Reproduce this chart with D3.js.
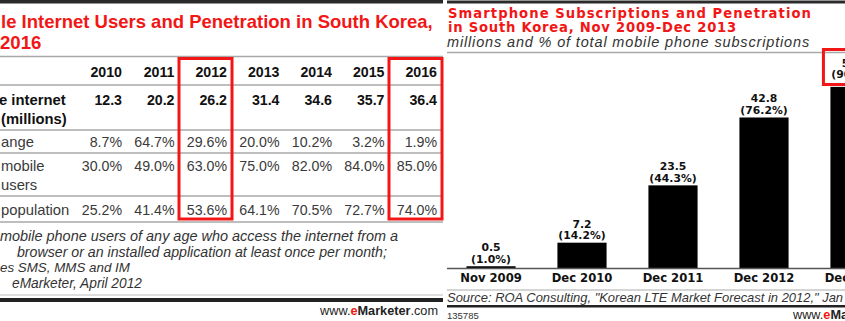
<!DOCTYPE html>
<html><head><meta charset="utf-8">
<script src="https://cdn.jsdelivr.net/npm/d3@7"></script>
<style>
html,body{margin:0;padding:0;background:#fff;}
svg{display:block;}
</style></head>
<body>
<div id="chart"></div>
<script>
// ---------- data: left table ----------
const years = [2010, 2011, 2012, 2013, 2014, 2015, 2016];
const mobileNetUsers = [12.3, 20.2, 26.2, 31.4, 34.6, 35.7, 36.4];      // millions
const pctChange = [8.7, 64.7, 29.6, 20.0, 10.2, 3.2, 1.9];
const pctMobileUsers = [30.0, 49.0, 63.0, 75.0, 82.0, 84.0, 85.0];
const pctPopulation = [25.2, 41.4, 53.6, 64.1, 70.5, 72.7, 74.0];
const highlightYears = [2012, 2016];
const rowLabels = [["e internet", "(millions)"], ["ange"], ["mobile", "users"], ["population"]];
const leftTitle = ["le Internet Users and Penetration in South Korea,", "2016"];
const leftNotes = ["mobile phone users of any age who access the internet from a",
                   "browser or an installed application at least once per month;",
                   "es SMS, MMS and IM",
                   "eMarketer, April 2012"];

// ---------- data: right bar chart ----------
const periods = ["Nov 2009", "Dec 2010", "Dec 2011", "Dec 2012", "Dec 2013"];
const smartSubs = [0.5, 7.2, 23.5, 42.8, 51.5];       // millions
const smartPen = [1.0, 14.2, 44.3, 76.2, 90.1];       // % of mobile subscriptions
const highlightPeriod = "Dec 2013";
const rightTitle = ["Smartphone Subscriptions and Penetration", "in South Korea, Nov 2009-Dec 2013"];
const rightSubtitle = "millions and % of total mobile phone subscriptions";
const rightSource = "Source: ROA Consulting, \"Korean LTE Market Forecast in 2012,\" Jan";
const chartId = "135785";

const W = 845, H = 321;
const RED = "#f21616";
const svg = d3.select("#chart").append("svg").attr("width", W).attr("height", H)
  .attr("viewBox", `0 0 ${W} ${H}`);
svg.append("rect").attr("width", W).attr("height", H).attr("fill", "#fff");

// scale font-size so the text spans a given width
function fit(sel, w) {
  sel.each(function () {
    const l = this.getComputedTextLength();
    const fs = parseFloat(this.getAttribute("font-size"));
    if (l > 0) this.setAttribute("font-size", (fs * w / l).toFixed(2));
  });
  return sel;
}
// widen letter spacing so the text spans a given width (keeps glyph height)
function fitLS(sel, w) {
  sel.each(function () {
    const l = this.getComputedTextLength();
    const n = this.textContent.length;
    if (l > 0 && n > 1) this.setAttribute("letter-spacing", ((w - l) / n).toFixed(3));
  });
  return sel;
}
function brand(g, x, y, anchor, size) {
  const t = g.append("text").attr("x", x).attr("y", y).attr("text-anchor", anchor)
    .attr("font-family", "Liberation Sans, Arial, sans-serif").attr("font-size", size).attr("fill", "#222");
  t.append("tspan").text("www.");
  t.append("tspan").attr("fill", RED).attr("font-weight", "bold").text("e");
  t.append("tspan").attr("font-weight", "bold").text("Marketer");
  t.append("tspan").text(".com");
  return t;
}

// ================= LEFT PANEL =================
const L = svg.append("g");
L.append("rect").attr("x", 0).attr("y", 0).attr("width", 443).attr("height", 3.5).attr("fill", "#2a2a2a");
fit(L.append("text").attr("x", 1).attr("y", 27.5).attr("font-family", "Liberation Sans, Arial, sans-serif")
  .attr("font-weight", "bold").attr("font-size", 19).attr("fill", RED).text(leftTitle[0]), 432);
L.append("text").attr("x", 0).attr("y", 49).attr("font-family", "Liberation Sans, Arial, sans-serif")
  .attr("font-weight", "bold").attr("font-size", 18.6).attr("fill", RED).text(leftTitle[1]);

const col = d3.scalePoint().domain(years).range([122, 437]);
const tableFont = "Liberation Sans, Arial, sans-serif";

// rule lines
const rules = [56.5, 85, 130, 153, 196, 222];
L.selectAll("line.rule").data(rules).join("line").attr("class", "rule")
  .attr("x1", 0).attr("x2", 443).attr("y1", d => d).attr("y2", d => d)
  .attr("stroke", "#a8a8a8").attr("stroke-width", 1.5);

// header
L.selectAll("text.yr").data(years).join("text").attr("class", "yr")
  .attr("x", d => col(d)).attr("y", 77).attr("text-anchor", "end")
  .attr("font-family", tableFont).attr("font-weight", "bold").attr("font-size", 14.2)
  .attr("fill", "#111").text(d => d);

const rows = [
  { vals: mobileNetUsers, fmt: d => d.toFixed(1), bold: true, y: 105, ly: [105, 124] },
  { vals: pctChange, fmt: d => d.toFixed(1) + "%", bold: false, y: 147, ly: [147] },
  { vals: pctMobileUsers, fmt: d => d.toFixed(1) + "%", bold: false, y: 171, ly: [171, 190] },
  { vals: pctPopulation, fmt: d => d.toFixed(1) + "%", bold: false, y: 215, ly: [215] }
];
rows.forEach((r, ri) => {
  L.append("g").selectAll("text").data(r.vals).join("text")
    .attr("x", (d, i) => col(years[i])).attr("y", r.y).attr("text-anchor", "end")
    .attr("font-family", tableFont).attr("font-weight", r.bold ? "bold" : "normal")
    .attr("font-size", 14.2).attr("fill", r.bold ? "#111" : "#3a3a3a").text(r.fmt);
  rowLabels[ri].forEach((lab, li) => {
    L.append("text").attr("x", li === 0 && ri === 0 ? -1 : 1).attr("y", r.ly[li])
      .attr("font-family", tableFont).attr("font-weight", r.bold ? "bold" : "normal")
      .attr("font-size", 14.8).attr("fill", r.bold ? "#111" : "#3a3a3a").text(lab);
  });
});

// highlight boxes
L.selectAll("rect.hl").data(highlightYears).join("rect").attr("class", "hl")
  .attr("x", d => col(d) - 48).attr("y", 58.5)
  .attr("width", 53).attr("height", 160.5)
  .attr("fill", "none").attr("stroke", RED).attr("stroke-width", 3);

// notes
const noteX = [0, 17, 0, 12], noteW = [398, 370, 130, 130], noteY = [241, 256.5, 272, 288];
leftNotes.forEach((n, i) => {
  fit(L.append("text").attr("x", noteX[i]).attr("y", noteY[i]).attr("font-family", tableFont)
    .attr("font-style", "italic").attr("font-size", 14).attr("fill", "#333").text(n), noteW[i]);
});
L.append("line").attr("x1", 0).attr("x2", 443).attr("y1", 295).attr("y2", 295).attr("stroke", "#bbb").attr("stroke-width", 1);
L.append("rect").attr("x", 0).attr("y", 298).attr("width", 443).attr("height", 4).attr("fill", "#222");
fit(brand(L, 438, 315, "end", 13), 118);

// ================= RIGHT PANEL =================
const R = svg.append("g");
const RX = 447;
R.append("rect").attr("x", RX).attr("y", 0.5).attr("width", W - RX).attr("height", 3).attr("fill", "#2a2a2a");
const rtFont = "DejaVu Sans, Verdana, sans-serif";
fitLS(R.append("text").attr("x", RX + 1).attr("y", 18).attr("font-family", rtFont).attr("font-weight", "bold")
  .attr("font-size", 13.2).attr("fill", RED).text(rightTitle[0]), 364);
fitLS(R.append("text").attr("x", RX + 1).attr("y", 31.5).attr("font-family", rtFont).attr("font-weight", "bold")
  .attr("font-size", 13.2).attr("fill", RED).text(rightTitle[1]), 289);
fitLS(R.append("text").attr("x", RX).attr("y", 46.5).attr("font-family", "Liberation Sans, Arial, sans-serif")
  .attr("font-style", "italic").attr("font-size", 14.5).attr("fill", "#333").text(rightSubtitle), 363);
R.append("line").attr("x1", RX).attr("x2", W).attr("y1", 52.5).attr("y2", 52.5).attr("stroke", "#a8a8a8").attr("stroke-width", 1.5);

const x = d3.scaleBand().domain(periods).range([445.5, 900.5]).paddingInner(0.46).paddingOuter(0.23);
const y = d3.scaleLinear().domain([0, 60]).range([268, 57]);

const bars = periods.map((p, i) => ({ p, v: smartSubs[i], pct: smartPen[i] }));
R.selectAll("rect.bar").data(bars).join("rect").attr("class", "bar")
  .attr("x", d => x(d.p)).attr("width", x.bandwidth())
  .attr("y", d => y(d.v)).attr("height", d => y(0) - y(d.v)).attr("fill", "#000");

// axis
const xAxis = d3.axisBottom(x).tickSize(0).tickPadding(0);
const ax = R.append("g").attr("transform", `translate(0,${y(0)})`).call(xAxis);
ax.select(".domain").remove();
ax.selectAll("text").attr("dy", null).attr("y", 14)
  .attr("font-family", rtFont).attr("font-weight", "bold").attr("font-size", 11.6).attr("fill", "#111");
R.append("line").attr("x1", RX).attr("x2", W).attr("y1", y(0) + 0.5).attr("y2", y(0) + 0.5)
  .attr("stroke", "#555").attr("stroke-width", 1.5);

// value labels
const lab = R.selectAll("g.lab").data(bars).join("g").attr("class", "lab");
const extra = d => d.p === highlightPeriod ? 5 : 0;
lab.append("text").attr("x", d => x(d.p) + x.bandwidth() / 2).attr("y", d => y(d.v) - 15 - extra(d))
  .attr("text-anchor", "middle").attr("font-family", rtFont).attr("font-weight", "bold")
  .attr("font-size", 10.8).attr("fill", "#111").text(d => d.v.toFixed(1));
lab.append("text").attr("x", d => x(d.p) + x.bandwidth() / 2).attr("y", d => y(d.v) - 3.5 - extra(d))
  .attr("text-anchor", "middle").attr("font-family", rtFont).attr("font-weight", "bold")
  .attr("font-size", 10.8).attr("fill", "#111").text(d => `(${d.pct.toFixed(1)}%)`);

// highlight box around Dec 2013 label
R.append("rect").attr("x", x(highlightPeriod) - 7).attr("y", 49.5).attr("width", 70).attr("height", 35)
  .attr("fill", "none").attr("stroke", RED).attr("stroke-width", 3);

// footer
R.append("line").attr("x1", RX).attr("x2", W).attr("y1", 290).attr("y2", 290).attr("stroke", "#aaa").attr("stroke-width", 1);
fit(R.append("text").attr("x", RX).attr("y", 302).attr("font-family", "Liberation Sans, Arial, sans-serif")
  .attr("font-style", "italic").attr("font-size", 13).attr("fill", "#333").text(rightSource), 396);
R.append("rect").attr("x", RX).attr("y", 305).attr("width", W - RX).attr("height", 2.5).attr("fill", "#222");
R.append("text").attr("x", RX).attr("y", 318.5).attr("font-family", "Liberation Sans, Arial, sans-serif")
  .attr("font-size", 9.5).attr("fill", "#333").text(chartId);
brand(R, 793, 318.5, "start", 12.7);
</script>
</body></html>
